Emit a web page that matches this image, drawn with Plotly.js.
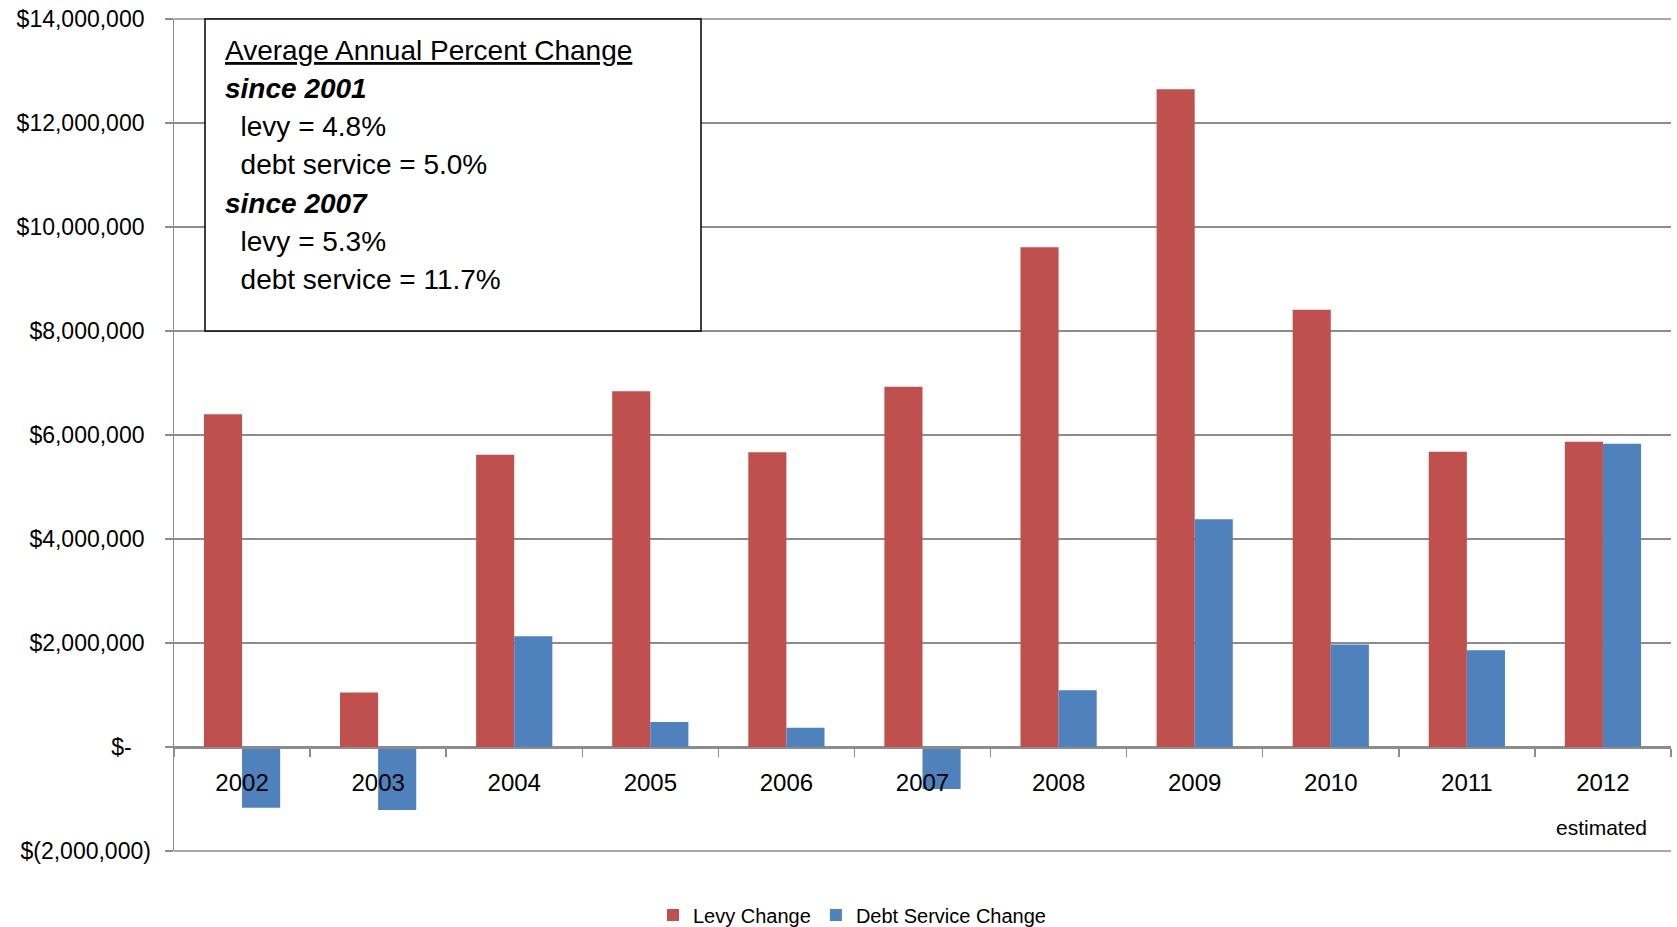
<!DOCTYPE html>
<html>
<head>
<meta charset="utf-8">
<script src="https://cdn.plot.ly/plotly-3.0.1.min.js"></script>
<style>
  html, body { margin: 0; padding: 0; background: #ffffff; }
  #chart { width: 1677px; height: 927px; }
</style>
</head>
<body>
<div id="chart"></div>
<script>
// Year-over-year change in the property tax levy and in debt service
const years = ['2002', '2003', '2004', '2005', '2006', '2007', '2008', '2009', '2010', '2011', '2012'];
const levyChange = [6400000, 1050000, 5620000, 6840000, 5670000, 6930000, 9610000, 12650000, 8410000, 5680000, 5870000];
const debtServiceChange = [-1170000, -1210000, 2130000, 480000, 370000, -810000, 1090000, 4380000, 1970000, 1860000, 5830000];

const seriesNames = ['Levy Change', 'Debt Service Change'];

// Dollar axis, accounting-style labels
const yRange = [-2000000, 14000000];
const yTickVals = [-2000000, 0, 2000000, 4000000, 6000000, 8000000, 10000000, 12000000, 14000000];
const yTickText = ['$(2,000,000)', '$-\u00a0\u00a0\u00a0', '$2,000,000\u00a0', '$4,000,000\u00a0', '$6,000,000\u00a0',
                   '$8,000,000\u00a0', '$10,000,000\u00a0', '$12,000,000\u00a0', '$14,000,000\u00a0'];

// Summary panel text
const boxLines = [
  '<u>Average Annual Percent Change</u>',
  '<b><i>since 2001</i></b>',
  '\u00a0\u00a0levy = 4.8%',
  '\u00a0\u00a0debt service = 5.0%',
  '<b><i>since 2007</i></b>',
  '\u00a0\u00a0levy = 5.3%',
  '\u00a0\u00a0debt service = 11.7%'
];
const footnote = 'estimated';

const FONT = 'Liberation Sans, Arial, sans-serif';
const GRID = '#8c8c8c';
const RED = '#C0504D';
const BLUE = '#4F81BD';

const W = 1677, H = 927;
const margin = { l: 174, r: 6, t: 19, b: 76, autoexpand: false };
const plotH = H - margin.t - margin.b;
const plotW = W - margin.l - margin.r;
const py = px => (H - margin.b - px) / plotH;   // pixel row -> paper y
const pxX = px => (px - margin.l) / plotW;       // pixel column -> paper x

// x axis sits on the zero line
const zeroPos = (0 - yRange[0]) / (yRange[1] - yRange[0]);

const traces = [
  { type: 'bar', name: seriesNames[0], x: years, y: levyChange,
    marker: { color: RED, line: { width: 0 } }, hoverinfo: 'x+y' },
  { type: 'bar', name: seriesNames[1], x: years, y: debtServiceChange,
    marker: { color: BLUE, line: { width: 0 } }, hoverinfo: 'x+y' }
];

const annotations = boxLines.map((t, i) => ({
  xref: 'paper', yref: 'paper',
  x: pxX(223), y: py(50 + 38.3 * i),
  xanchor: 'left', yanchor: 'middle',
  text: t, showarrow: false, align: 'left',
  font: { family: FONT, size: 28, color: '#000' }
}));
annotations.push({
  xref: 'paper', yref: 'paper', x: pxX(1601), y: py(827),
  xanchor: 'center', yanchor: 'middle',
  text: footnote, showarrow: false,
  font: { family: FONT, size: 21, color: '#000' }
});

// frame lines along the top and bottom of the value range
const edgeLine = y => ({
  type: 'line', xref: 'paper', yref: 'paper', x0: 0, x1: 1, y0: y, y1: y,
  line: { color: GRID, width: 1.5 }, layer: 'below'
});

const layout = {
  width: W, height: H,
  margin: margin,
  paper_bgcolor: '#ffffff', plot_bgcolor: '#ffffff',
  font: { family: FONT, color: '#000' },
  barmode: 'group', bargap: 0.44, bargroupgap: 0,
  showlegend: true,
  legend: {
    orientation: 'h', x: pxX(852), xanchor: 'center',
    y: py(915), yanchor: 'middle',
    font: { family: FONT, size: 20, color: '#000' },
    bgcolor: 'rgba(0,0,0,0)'
  },
  xaxis: {
    type: 'category', range: [-0.5, years.length - 0.5],
    anchor: 'free', position: zeroPos,
    showline: true, linecolor: GRID, linewidth: 1.5,
    ticks: 'outside', tickson: 'boundaries', ticklen: 8, tickwidth: 1.5, tickcolor: GRID,
    showgrid: false, zeroline: false, tickangle: 0,
    tickfont: { family: FONT, size: 24, color: '#000' },
    ticklabelstandoff: 14
  },
  yaxis: {
    range: yRange, tickvals: yTickVals, ticktext: yTickText,
    showgrid: true, gridcolor: GRID, gridwidth: 1.5,
    showline: true, linecolor: GRID, linewidth: 1.5,
    ticks: 'outside', ticklen: 8, tickwidth: 1.5, tickcolor: GRID,
    zeroline: false,
    tickfont: { family: FONT, size: 23, color: '#000' },
    ticklabelstandoff: 9
  },
  shapes: [
    edgeLine(0), edgeLine(1),
    { type: 'rect', xref: 'paper', yref: 'paper',
      x0: pxX(205), x1: pxX(701), y0: py(331), y1: py(19),
      line: { color: '#000', width: 1.5 }, fillcolor: 'rgba(255,255,255,1)', layer: 'above' }
  ],
  annotations: annotations
};

Plotly.newPlot('chart', traces, layout, { staticPlot: true, displayModeBar: false });
</script>
</body>
</html>
